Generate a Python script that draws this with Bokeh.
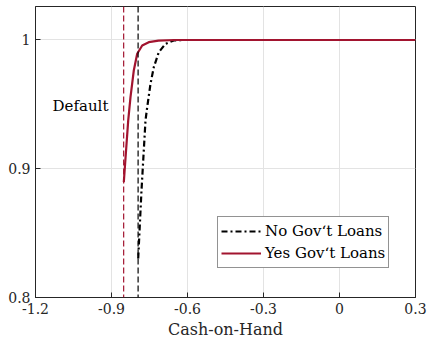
from bokeh.plotting import figure
from bokeh.models import Range1d, FixedTicker, Legend, LegendItem, Span, Label
from bokeh.embed import file_html
from bokeh.resources import INLINE

# Data
x_ticks = [-1.2, -0.9, -0.6, -0.3, 0.0, 0.3]
x_tick_labels = {-1.2: "-1.2", -0.9: "-0.9", -0.6: "-0.6", -0.3: "-0.3", 0.0: "0", 0.3: "0.3"}
y_ticks = [0.8, 0.9, 1.0]
y_tick_labels = {0.8: "0.8", 0.9: "0.9", 1.0: "1"}

no_loans_x = [-0.7946, -0.7816, -0.7658, -0.7591, -0.746, -0.733, -0.7133, -0.6868, -0.654, -0.621, 0.3]
no_loans_y = [0.8303, 0.8831, 0.9375, 0.9478, 0.966, 0.9789, 0.9905, 0.997, 0.9996, 1.0, 1.0]

yes_loans_x = [-0.8514, -0.8428, -0.834, -0.825, -0.812, -0.7986, -0.7788, -0.7528, -0.7145, -0.65, 0.3]
yes_loans_y = [0.8896, 0.9134, 0.9375, 0.9556, 0.9763, 0.9893, 0.9957, 0.9983, 0.9995, 1.0, 1.0]

default_no_loans = -0.795
default_yes_loans = -0.852

series_labels = ["No Gov\u2018t Loans", "Yes Gov\u2018t Loans"]
annotation_text = "Default"

RED = "#A2142F"
AX = "#262626"
FONT = "DejaVu Serif"

p = figure(width=428, height=341, output_backend="svg", toolbar_location=None,
           x_range=Range1d(-1.2, 0.3), y_range=Range1d(0.8, 1.026),
           min_border_left=35, min_border_right=13, min_border_top=6, min_border_bottom=44)

p.background_fill_color = "white"
p.border_fill_color = "white"
p.outline_line_color = AX
p.outline_line_width = 1

for ax in p.xaxis:
    ax.ticker = FixedTicker(ticks=x_ticks)
    ax.major_label_overrides = x_tick_labels
for ax in p.yaxis:
    ax.ticker = FixedTicker(ticks=y_ticks)
    ax.major_label_overrides = y_tick_labels

for ax in list(p.xaxis) + list(p.yaxis):
    ax.major_tick_in = 5
    ax.major_tick_out = 0
    ax.minor_tick_in = 0
    ax.minor_tick_out = 0
    ax.axis_line_color = AX
    ax.major_tick_line_color = AX
    ax.major_label_text_font = FONT
    ax.major_label_text_font_size = "14px"
    ax.major_label_text_color = AX
    ax.major_label_standoff = 5

p.xaxis.axis_label = "Cash-on-Hand"
p.xaxis.axis_label_text_font = FONT
p.xaxis.axis_label_text_font_size = "16px"
p.xaxis.axis_label_text_font_style = "normal"
p.xaxis.axis_label_text_color = AX
p.xaxis.axis_label_standoff = 3

p.xgrid.ticker = FixedTicker(ticks=x_ticks)
p.ygrid.ticker = FixedTicker(ticks=y_ticks)
p.xgrid.grid_line_color = "#e3e3e3"
p.ygrid.grid_line_color = "#e3e3e3"

p.add_layout(Span(location=default_yes_loans, dimension="height", line_color=RED,
                  line_width=1.2, line_dash="6 3"))
p.add_layout(Span(location=default_no_loans, dimension="height", line_color="black",
                  line_width=1.2, line_dash="6 3"))

r_no = p.line(no_loans_x, no_loans_y, line_color="black", line_width=2.2, line_dash="6 3 2 3")
r_yes = p.line(yes_loans_x, yes_loans_y, line_color=RED, line_width=2.2)

p.add_layout(Label(x=-1.0224, y=0.9491, text=annotation_text, text_font=FONT,
                   text_font_size="15px", text_align="center", text_baseline="middle",
                   text_color="black"))

legend = Legend(items=[LegendItem(label=series_labels[0], renderers=[r_no]),
                       LegendItem(label=series_labels[1], renderers=[r_yes])],
                location=(182, 29), glyph_width=40, glyph_height=22, label_height=22,
                label_standoff=4, padding=3, spacing=0, margin=0,
                label_text_font=FONT, label_text_font_size="15px", label_text_color="black",
                border_line_color=AX, border_line_width=1, background_fill_color="white",
                background_fill_alpha=1)
p.add_layout(legend, "center")

open("out.html", "w").write(file_html(p, INLINE))
